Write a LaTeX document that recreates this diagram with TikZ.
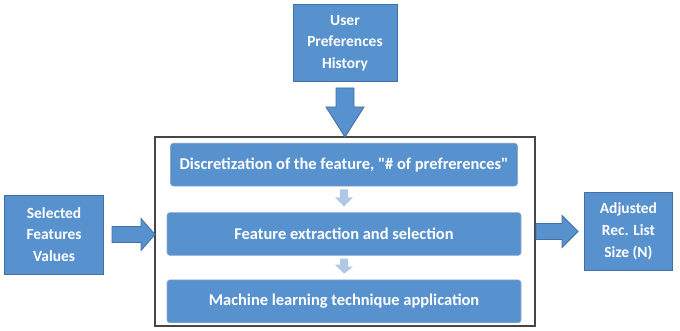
\documentclass[tikz,border=0pt]{standalone}
\usepackage{fontspec}
\setmainfont{Carlito}
\usepackage{tikz}
\usetikzlibrary{positioning,calc}
\usepackage{xcolor}
\definecolor{boxblue}{RGB}{88,146,206}
\definecolor{boxedge}{RGB}{66,112,162}
\definecolor{stepblue}{RGB}{176,199,230}
\definecolor{framegray}{RGB}{70,70,70}

\begin{document}
\begin{tikzpicture}[
    sidebox/.style={rectangle, draw=boxedge, fill=boxblue, text=white, align=center,
                    inner sep=0pt, line width=0.6pt,
                    font=\fontsize{11}{15.5}\selectfont\bfseries},
    stagebox/.style={rectangle, rounded corners=2pt, draw=boxedge!60, fill=boxblue, text=white,
                     align=center, inner sep=0pt, minimum height=1.07cm, line width=0.4pt,
                     font=\fontsize{11.7}{13}\selectfont\bfseries},
    bigarrow/.style={fill=boxblue, draw=boxedge, line width=0.6pt, line join=miter},
    smallarrow/.style={fill=stepblue, draw=none}
]
\useasboundingbox (0,0) rectangle (17,8.25);

% outer frame
\node[rectangle, draw=framegray, line width=0.9pt, inner sep=0pt, outer sep=0pt,
      minimum width=9.5cm, minimum height=4.725cm] (frame) at (8.625,2.4625) {};

% the three stages
\node[stagebox, minimum width=8.85cm] (feat) at (8.6,2.4) {Feature extraction and selection};
\node[stagebox, minimum width=8.675cm, above=0.65cm of feat] (disc)
    {Discretization of the feature, \textquotedbl\# of prefrerences\textquotedbl};
\node[stagebox, minimum width=8.85cm, below=0.6cm of feat] (ml)
    {Machine learning technique application};

% inputs and output
\node[sidebox, minimum width=2.6cm, minimum height=1.925cm, above=1.375cm of frame] (pref)
    {User\\Preferences\\History};
\node[sidebox, minimum width=2.475cm, minimum height=1.975cm, left=1.275cm of frame, yshift=-0.075cm] (sel)
    {Selected\\Features\\Values};
\node[sidebox, minimum width=2.2cm, minimum height=1.95cm, right=1.225cm of frame] (adj)
    {Adjusted\\Rec. List\\Size (N)};

% block arrows
\draw[bigarrow] ($(pref.south)+(-0.225,-0.15)$) -- ++(0.45,0)
    |- ($(frame.north)+(0.475,0.75)$) -- (frame.north)
    -- ++(-0.475,0.75) -- ++(0.25,0) -- cycle;
\draw[bigarrow] ($(sel.east)+(0.2,0.2)$) -- ($(sel.east -| frame.west)+(-0.35,0.2)$)
    -- ++(0,0.2) -- (sel.east -| frame.west) -- ++(-0.35,-0.4)
    -- ++(0,0.2) -- ($(sel.east)+(0.2,-0.2)$) -- cycle;
\draw[bigarrow] ($(adj.west -| frame.east)+(0.025,0.2)$) -- ($(adj.west)+(-0.55,0.2)$)
    -- ++(0,0.2) -- ($(adj.west)+(-0.15,0)$) -- ++(-0.4,-0.4)
    -- ++(0,0.2) -- ($(adj.west -| frame.east)+(0.025,-0.2)$) -- cycle;

% small arrows between stages
\fill[smallarrow] ($(disc.south)+(-0.1,-0.075)$) -- ++(0.2,0) -- ++(0,-0.2)
    -- ++(0.125,0) -- ($(feat.north)+(0,0.15)$) -- ++(-0.225,0.225)
    -- ++(0.125,0) -- cycle;
\fill[smallarrow] ($(feat.south)+(-0.1,-0.075)$) -- ++(0.2,0) -- ++(0,-0.2)
    -- ++(0.125,0) -- ($(ml.north)+(0,0.15)$) -- ++(-0.225,0.225)
    -- ++(0.125,0) -- cycle;

\end{tikzpicture}
\end{document}
